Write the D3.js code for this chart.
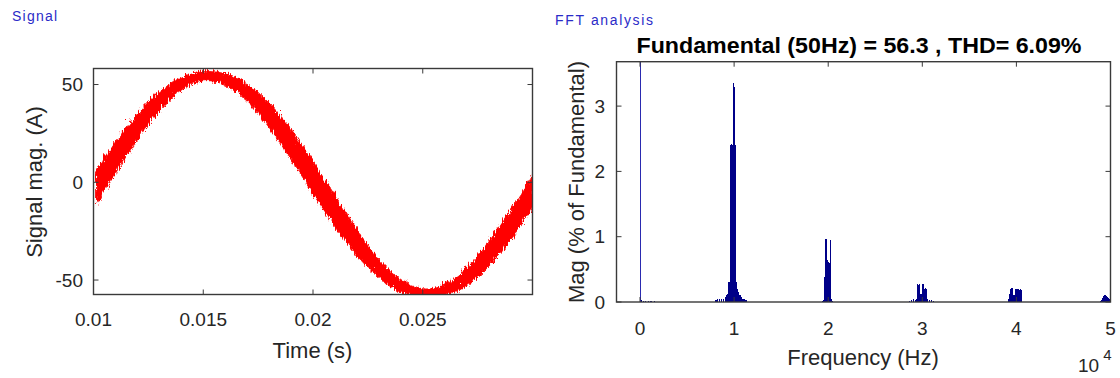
<!DOCTYPE html>
<html><head><meta charset="utf-8">
<script src="https://cdn.jsdelivr.net/npm/d3@7"></script>
<style>
body{margin:0;background:#fff;}
svg{display:block;}
text{font-family:"Liberation Sans",Arial,sans-serif;}
</style>
</head><body>
<svg id="chart" width="1120" height="378"></svg>
<script>
// ---- Signal (time domain): band envelope ----
const timeS = [0.0100,0.0105,0.0110,0.0115,0.0120,0.0125,0.0130,0.0135,0.0140,0.0145,
  0.0150,0.0155,0.0160,0.0165,0.0170,0.0175,0.0180,0.0185,0.0190,0.0195,
  0.0200,0.0205,0.0210,0.0215,0.0220,0.0225,0.0230,0.0235,0.0240,0.0245,
  0.0250,0.0255,0.0260,0.0265,0.0270,0.0275,0.0280,0.0285,0.0290,0.0295,0.0300];
const upperA = [6.7,15.2,23.4,30.9,37.7,43.6,48.5,52.5,55.5,57.4,
  58.2,57.9,56.5,54.1,50.6,46.0,40.5,34.0,26.7,18.7,
  10.2,1.3,-7.7,-16.5,-24.9,-32.6,-39.3,-44.9,-49.2,-51.9,
  -53.0,-52.4,-50.2,-46.5,-41.4,-35.0,-27.7,-19.6,-11.0,-2.2,6.7];
const lowerA = [-10.2,-1.3,7.7,16.5,24.9,32.6,39.3,44.9,49.2,51.9,
  53.0,52.4,50.2,46.5,41.4,35.0,27.7,19.6,11.0,2.2,
  -6.7,-15.2,-23.4,-30.9,-37.7,-43.6,-48.5,-52.5,-55.5,-57.4,
  -58.2,-57.9,-56.5,-54.1,-50.6,-46.0,-40.5,-34.0,-26.7,-18.7,-10.2];
const timeTicks = [0.01,0.015,0.02,0.025];
const timeTickLabels = ["0.01","0.015","0.02","0.025"];
const ampTicks = [-50,0,50];

// ---- FFT spectrum (% of fundamental), odd harmonic bins ----
const specHz = [50,150,350,550,850,1150,1550,
  8050,8250,8450,8650,8850,9050,9150,9250,9350,9450,9550,9650,9750,9850,9950,10050,10150,10250,10350,10450,10550,10650,10750,10850,10950,11050,11150,11250,
  19350,19450,19550,19650,19750,19850,19950,20050,20150,20250,20350,20450,
  28650,28850,29050,29250,29350,29450,29550,29650,29750,29850,29950,30050,30150,30250,30350,30450,30550,30750,30950,31150,
  39150,39250,39350,39450,39550,39650,39750,39850,39950,40050,40150,40250,40350,40450,40550,
  48950,49050,49150,49250,49350,49450,49550,49650,49750,49850,49950];
const specMag = [100,0.03,0.02,0.02,0.02,0.02,0.02,
  0.03,0.04,0.04,0.05,0.05,0.08,0.1,0.12,0.15,0.3,0.3,2.4,2.42,2.4,3.35,3.3,2.4,0.3,0.2,0.15,0.1,0.1,0.08,0.05,0.05,0.04,0.03,0.03,
  0.02,0.03,0.36,0.38,0.97,0.62,0.64,0.62,0.6,0.95,0.04,0.02,
  0.02,0.03,0.04,0.03,0.05,0.27,0.26,0.27,0.12,0.1,0.12,0.27,0.25,0.2,0.22,0.2,0.04,0.03,0.03,0.02,
  0.04,0.12,0.2,0.22,0.21,0.1,0.1,0.2,0.2,0.19,0.2,0.2,0.19,0.2,0.19,
  0.02,0.03,0.06,0.09,0.1,0.1,0.09,0.07,0.06,0.05,0.05];
const freqTicks = [0,10000,20000,30000,40000,50000];
const freqTickLabels = ["0","1","2","3","4","5"];
const magTicks = [0,1,2,3];

// ---- Drawing ----
const svg = d3.select("#chart");
const frameColor = "#3a3a3a";
const tickText = "#262626";
const defs = svg.append("defs");

// edge roughness texture for the PWM ripple band (styling only)
const flt = defs.append("filter").attr("id","ripple").attr("x","-5%").attr("y","-5%").attr("width","110%").attr("height","110%");
flt.append("feTurbulence").attr("type","turbulence").attr("baseFrequency","0.6 0.08")
  .attr("numOctaves",1).attr("seed",3).attr("result","noise");
flt.append("feDisplacementMap").attr("in","SourceGraphic").attr("in2","noise")
  .attr("scale",7).attr("xChannelSelector","R").attr("yChannelSelector","G");

function drawFrame(g, x, y, xt, yt, tl){
  const [x0,x1] = x.range(), [y1,y0] = y.range();
  g.append("rect").attr("x",x0).attr("y",y0).attr("width",x1-x0).attr("height",y1-y0)
    .attr("fill","none").attr("stroke",frameColor).attr("stroke-width",1.4);
  xt.forEach(v=>{
    const px = x(v);
    g.append("line").attr("x1",px).attr("x2",px).attr("y1",y1).attr("y2",y1-tl).attr("stroke",frameColor);
    g.append("line").attr("x1",px).attr("x2",px).attr("y1",y0).attr("y2",y0+tl).attr("stroke",frameColor);
  });
  yt.forEach(v=>{
    const py = y(v);
    g.append("line").attr("x1",x0).attr("x2",x0+tl).attr("y1",py).attr("y2",py).attr("stroke",frameColor);
    g.append("line").attr("x1",x1).attr("x2",x1-tl).attr("y1",py).attr("y2",py).attr("stroke",frameColor);
  });
}

// Left chart
const x1s = d3.scaleLinear().domain([0.01,0.03]).range([93.5,532.5]);
const y1s = d3.scaleLinear().domain([-57.4,58.2]).range([294.5,68.5]);
defs.append("clipPath").attr("id","clipL").append("rect")
  .attr("x",93.5).attr("y",68.5).attr("width",439).attr("height",226);
const band = timeS.map((t,i)=>({t, u:upperA[i], l:lowerA[i]}));
const area = d3.area().x(d=>x1s(d.t)).y0(d=>y1s(d.l)).y1(d=>y1s(d.u)).curve(d3.curveCatmullRom);
svg.append("g").attr("clip-path","url(#clipL)")
  .append("path").datum(band).attr("d",area).attr("fill","#ff0000")
  .attr("stroke","#ff0000").attr("stroke-width",0.8).attr("filter","url(#ripple)");
const gL = svg.append("g");
drawFrame(gL, x1s, y1s, timeTicks, ampTicks, 5);
gL.selectAll("text.xl").data(timeTicks).join("text").attr("class","xl")
  .attr("x",d=>x1s(d)).attr("y",319).attr("dy","0.35em").attr("text-anchor","middle")
  .attr("font-size",19).attr("fill",tickText).text((d,i)=>timeTickLabels[i]);
gL.selectAll("text.yl").data(ampTicks).join("text").attr("class","yl")
  .attr("x",83).attr("y",d=>y1s(d)).attr("dy","0.35em").attr("text-anchor","end")
  .attr("font-size",19).attr("fill",tickText).text(d=>d);
gL.append("text").attr("x",312.5).attr("y",350).attr("dy","0.35em").attr("text-anchor","middle")
  .attr("font-size",22).attr("fill",tickText).text("Time (s)");
gL.append("text").attr("transform","translate(34,182) rotate(-90)").attr("dy","0.35em")
  .attr("text-anchor","middle").attr("font-size",22).attr("fill",tickText).text("Signal mag. (A)");
svg.append("text").attr("x",12).attr("y",16).attr("dy","0.35em").attr("font-size",14)
  .attr("fill","#2b2bc8").attr("textLength",45).text("Signal");

// Right chart
const x2s = d3.scaleLinear().domain([-2500,50000]).range([616.5,1110.5]);
const y2s = d3.scaleLinear().domain([0,3.68]).range([302,61.7]);
defs.append("clipPath").attr("id","clipR").append("rect")
  .attr("x",616.5).attr("y",61.7).attr("width",494).attr("height",240.3);
const spec = specHz.map((f,i)=>({f, m:specMag[i]}));
svg.append("g").attr("clip-path","url(#clipR)").attr("shape-rendering","crispEdges")
  .selectAll("rect").data(spec).join("rect")
  .attr("x",d=>x2s(d.f-50))
  .attr("width",d=>Math.max(1.2, x2s(d.f+50)-x2s(d.f-50)))
  .attr("y",d=>y2s(d.m))
  .attr("height",d=>Math.max(1, y2s(0)-y2s(d.m)))
  .attr("fill",d=>d.f===50?"#2a2ab0":"#000088");
const gR = svg.append("g");
drawFrame(gR, x2s, y2s, freqTicks, magTicks, 5);
gR.selectAll("text.xl").data(freqTicks).join("text").attr("class","xl")
  .attr("x",d=>x2s(d)).attr("y",328).attr("dy","0.35em").attr("text-anchor","middle")
  .attr("font-size",19).attr("fill",tickText).text((d,i)=>freqTickLabels[i]);
gR.selectAll("text.yl").data(magTicks).join("text").attr("class","yl")
  .attr("x",605).attr("y",d=>y2s(d)).attr("dy","0.35em").attr("text-anchor","end")
  .attr("font-size",19).attr("fill",tickText).text(d=>d);
gR.append("text").attr("x",863).attr("y",357).attr("dy","0.35em").attr("text-anchor","middle")
  .attr("font-size",22).attr("fill",tickText).text("Frequency (Hz)");
gR.append("text").attr("transform","translate(576,182) rotate(-90)").attr("dy","0.35em")
  .attr("text-anchor","middle").attr("font-size",22).attr("fill",tickText).text("Mag (% of Fundamental)");
const exp = gR.append("text").attr("x",1078).attr("y",365).attr("dy","0.35em")
  .attr("font-size",19).attr("fill",tickText);
exp.append("tspan").text("10");
exp.append("tspan").attr("font-size",15).attr("dy","-0.75em").attr("dx","4").text("4");
gR.append("text").attr("x",859).attr("y",45).attr("dy","0.35em").attr("text-anchor","middle")
  .attr("font-size",22).attr("font-weight","bold").attr("fill","#000")
  .attr("textLength",445).attr("lengthAdjust","spacingAndGlyphs")
  .text("Fundamental (50Hz) = 56.3 , THD= 6.09%");
svg.append("text").attr("x",555).attr("y",20).attr("dy","0.35em").attr("font-size",14)
  .attr("fill","#2b2bc8").attr("textLength",98).text("FFT analysis");
</script>
</body></html>
